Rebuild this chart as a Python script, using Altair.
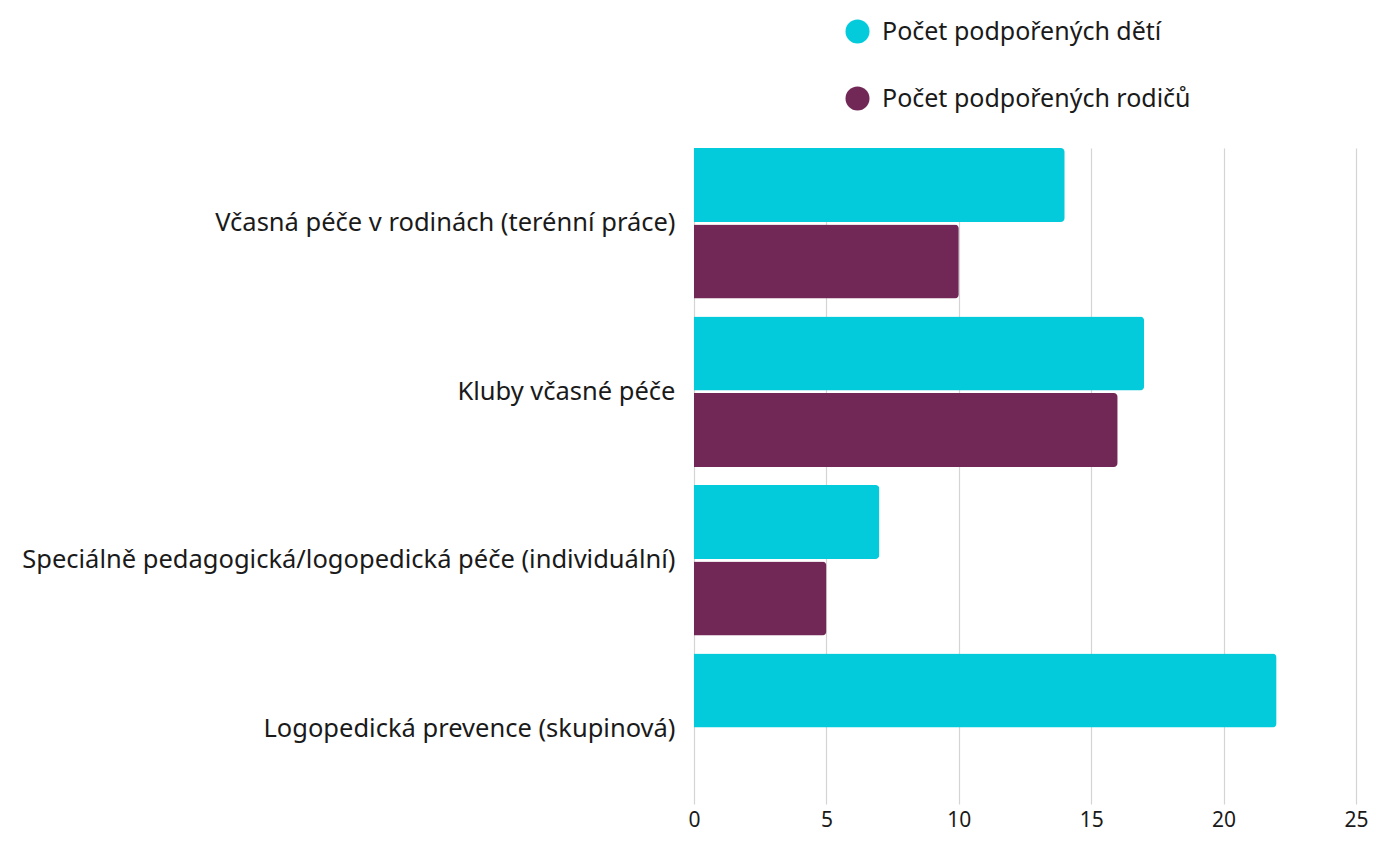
import altair as alt
import pandas as pd

categories = [
    "Včasná péče v rodinách (terénní práce)",
    "Kluby včasné péče",
    "Speciálně pedagogická/logopedická péče (individuální)",
    "Logopedická prevence (skupinová)",
]
series_names = ["Počet podpořených dětí", "Počet podpořených rodičů"]
children = [14, 17, 7, 22]
parents = [10, 16, 5, None]
colors = ["#04CBDC", "#722856"]

rows = []
for c, v in zip(categories, children):
    rows.append({"cat": c, "series": series_names[0], "value": v})
for c, v in zip(categories, parents):
    if v is not None:
        rows.append({"cat": c, "series": series_names[1], "value": v})
df = pd.DataFrame(rows)

FONT = "Noto Sans"

chart = alt.Chart(df).mark_bar(cornerRadiusEnd=4).encode(
    x=alt.X("value:Q",
            scale=alt.Scale(domain=[0, 25], nice=False),
            axis=alt.Axis(values=[0, 5, 10, 15, 20, 25], title=None, domain=False,
                          ticks=False, grid=True, gridColor="#d4d4d4", gridWidth=1.2,
                          labelFontSize=21, labelColor="#1a1a1a", labelPadding=5,
                          labelFont=FONT, labelFlush=False)),
    y=alt.Y("cat:N", sort=categories,
            scale=alt.Scale(paddingInner=0.106, paddingOuter=0),
            axis=alt.Axis(title=None, domain=False, ticks=False, grid=False,
                          labelFontSize=25.5, labelColor="#1a1a1a", labelPadding=19,
                          labelFont=FONT, labelLimit=1000)),
    yOffset=alt.YOffset("series:N", sort=series_names,
                        scale=alt.Scale(paddingInner=0.033)),
    color=alt.Color("series:N", sort=series_names,
                    scale=alt.Scale(domain=series_names, range=colors),
                    legend=alt.Legend(title=None, orient="none", legendX=151, legendY=-129,
                                      symbolType="circle", symbolSize=576,
                                      symbolStrokeWidth=0, labelFontSize=25,
                                      labelFont=FONT, labelColor="#1a1a1a",
                                      labelOffset=12, rowPadding=41,
                                      symbolOpacity=1, labelLimit=1000)),
).properties(
    width=662, height=656,
    autosize=alt.AutoSizeParams(type="none"),
    padding={"top": 140, "left": 686, "right": 12, "bottom": 34},
).configure_view(stroke=None)

chart.save("out.html", embed_options={"renderer": "svg", "actions": False})
